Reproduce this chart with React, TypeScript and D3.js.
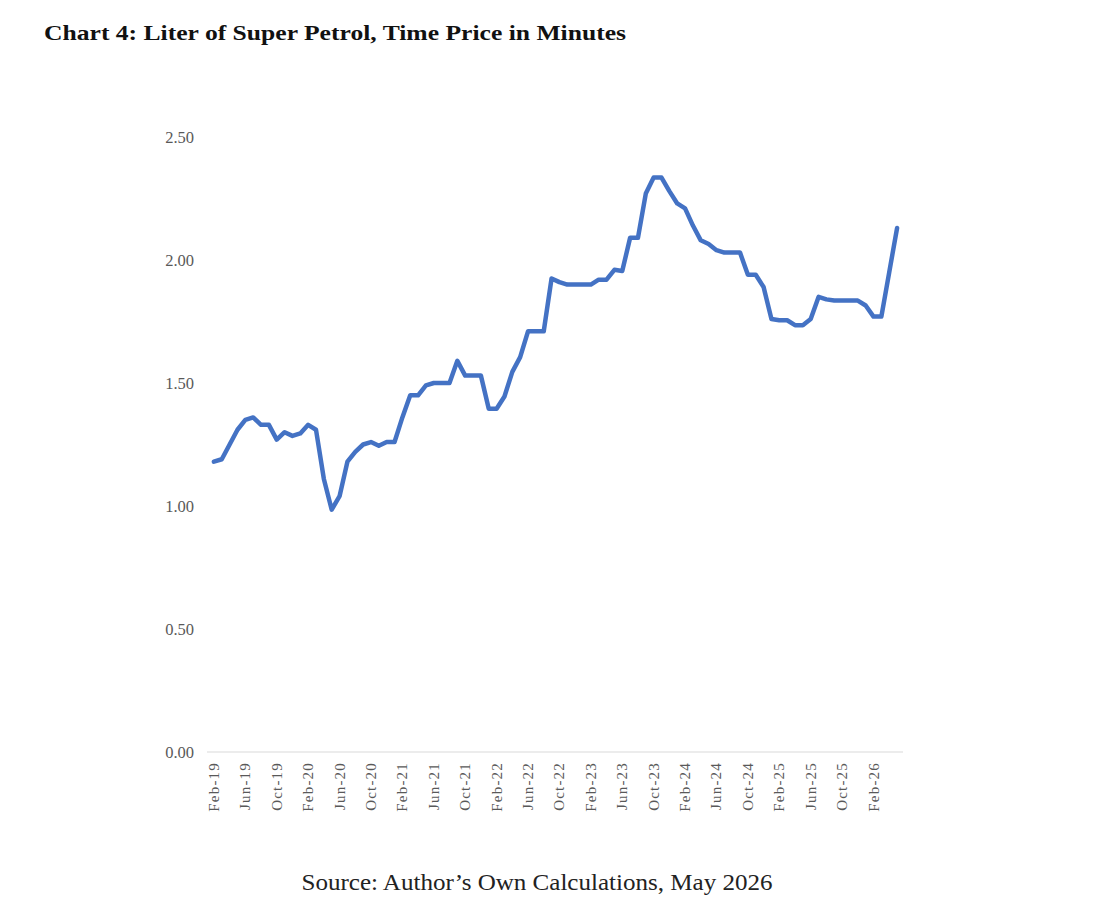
import React, { useEffect, useMemo } from 'react'
import * as d3 from 'd3'

// monthly time price of a liter of super petrol, Feb-19 .. May-26
const monthNames = ['Jan', 'Feb', 'Mar', 'Apr', 'May', 'Jun', 'Jul', 'Aug', 'Sep', 'Oct', 'Nov', 'Dec']
const startMonth = 1 // Feb
const startYear = 19

const minutes = [
  1.18, 1.19, 1.25, 1.31, 1.35, 1.36, 1.33, 1.33, 1.27, 1.3, 1.285, 1.295,
  1.33, 1.31, 1.11, 0.985, 1.04, 1.18, 1.22, 1.25, 1.26, 1.245, 1.26, 1.26,
  1.36, 1.45, 1.45, 1.49, 1.5, 1.5, 1.5, 1.59, 1.53, 1.53, 1.53, 1.395,
  1.395, 1.445, 1.545, 1.605, 1.71, 1.71, 1.71, 1.925, 1.91, 1.9, 1.9, 1.9,
  1.9, 1.92, 1.92, 1.96, 1.955, 2.09, 2.09, 2.27, 2.335, 2.335, 2.28, 2.23,
  2.21, 2.14, 2.08, 2.065, 2.04, 2.03, 2.03, 2.03, 1.94, 1.94, 1.89, 1.76,
  1.755, 1.755, 1.735, 1.735, 1.76, 1.85, 1.84, 1.835, 1.835, 1.835, 1.835, 1.815,
  1.77, 1.77, 1.95, 2.13,
]

const yTicks = [0, 0.5, 1, 1.5, 2, 2.5]

const title = 'Chart 4: Liter of Super Petrol, Time Price in Minutes'
const source = 'Source: Author\u2019s Own Calculations, May 2026'

const categories = minutes.map((_, i) => {
  const m = startMonth + i
  return `${monthNames[m % 12]}-${startYear + Math.floor(m / 12)}`
})

const width = 1104
const height = 914
const font = '"Liberation Serif", "DejaVu Serif", serif'

const App: React.FC = () => {
  useEffect(() => {
    document.body.style.margin = '0'
  }, [])

  const x = useMemo(
    () => d3.scaleBand<string>().domain(categories).range([210, 901]).paddingInner(0),
    []
  )
  const y = useMemo(() => d3.scaleLinear().domain([0, 2.5]).range([752, 137]), [])

  const line = d3
    .line<number>()
    .x((_, i) => (x(categories[i]) ?? 0) + x.bandwidth() / 2)
    .y(d => y(d))

  return (
    <svg width={width} height={height} style={{ display: 'block', background: '#fff' }}>
      <text
        x={44}
        y={40}
        fontFamily={font}
        fontWeight="bold"
        fontSize={22}
        fill="#111"
        textLength={582}
        lengthAdjust="spacingAndGlyphs"
      >
        {title}
      </text>

      {/* y axis labels */}
      {yTicks.map(t => (
        <text
          key={t}
          x={194}
          y={y(t)}
          dy="0.35em"
          textAnchor="end"
          fontFamily={font}
          fontSize={16.5}
          fill="#595959"
        >
          {d3.format('.2f')(t)}
        </text>
      ))}

      {/* x axis */}
      <line x1={207} x2={903} y1={y(0)} y2={y(0)} stroke="#d9d9d9" strokeWidth={1} />
      {categories.map((c, i) =>
        i % 4 === 0 ? (
          <text
            key={c}
            transform={`translate(${(x(c) ?? 0) + x.bandwidth() / 2 + 5},${y(0) + 10}) rotate(-90)`}
            textAnchor="end"
            fontFamily={font}
            fontSize={15}
            letterSpacing={1.2}
            fill="#595959"
          >
            {c}
          </text>
        ) : null
      )}

      <path
        d={line(minutes) ?? ''}
        fill="none"
        stroke="#4472C4"
        strokeWidth={4.5}
        strokeLinejoin="round"
        strokeLinecap="round"
      />

      <text
        x={537}
        y={890}
        textAnchor="middle"
        fontFamily={font}
        fontSize={23}
        fill="#222"
        textLength={471}
        lengthAdjust="spacingAndGlyphs"
      >
        {source}
      </text>
    </svg>
  )
}

export default App
